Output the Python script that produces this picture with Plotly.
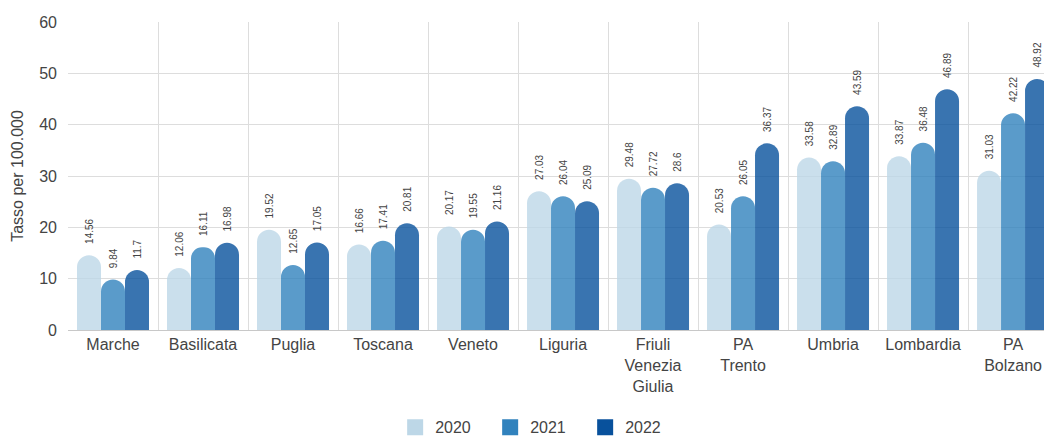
import plotly.graph_objects as go

regions = ["Marche", "Basilicata", "Puglia", "Toscana", "Veneto", "Liguria",
           "Friuli<br>Venezia<br>Giulia", "PA<br>Trento", "Umbria", "Lombardia",
           "PA<br>Bolzano"]
years = ["2020", "2021", "2022"]
rate_2020 = [14.56, 12.06, 19.52, 16.66, 20.17, 27.03, 29.48, 20.53, 33.58, 33.87, 31.03]
rate_2021 = [9.84, 16.11, 12.65, 17.41, 19.55, 26.04, 27.72, 26.05, 32.89, 36.48, 42.22]
rate_2022 = [11.7, 16.98, 17.05, 20.81, 21.16, 25.09, 28.6, 36.37, 43.59, 46.89, 48.92]
series = [rate_2020, rate_2021, rate_2022]
colors = ["#bdd7e7", "#3182bd", "#08519c"]

FONT = "Liberation Sans, Arial, sans-serif"
TEXT = "#444444"

fig = go.Figure()
for year, values, color in zip(years, series, colors):
    fig.add_trace(go.Bar(
        x=regions, y=values, name=year, showlegend=False,
        marker=dict(color=color, opacity=0.8, cornerradius="50%", line=dict(width=0)),
        texttemplate="\u00a0\u00a0\u00a0%{y}", textposition="outside", textangle=-90,
        constraintext="none",
        textfont=dict(size=10, color=TEXT, family=FONT), cliponaxis=False,
        hoverinfo="x+y+name",
    ))

# legend swatches in the solid palette
for year, color in zip(years, colors):
    fig.add_trace(go.Scatter(
        x=[None], y=[None], mode="markers", name=year,
        marker=dict(symbol="square", size=16, color=color),
    ))

fig.update_layout(
    width=1044, height=436,
    margin=dict(l=68, r=0, t=22, b=106),
    paper_bgcolor="white", plot_bgcolor="white",
    font=dict(family=FONT, size=16, color=TEXT),
    barmode="group", bargap=0.2, bargroupgap=0,
    showlegend=True,
    legend=dict(orientation="h", xref="container", yref="container",
                x=0.515, xanchor="center", y=0.02, yanchor="middle",
                font=dict(size=16, color=TEXT), entrywidth=50,
                entrywidthmode="pixels"),
    xaxis=dict(type="category", range=[-0.5, 10.344], tickson="boundaries",
               showgrid=True, gridcolor="#dddddd", ticks="",
               showline=True, linecolor="#c8c8c8",
               tickfont=dict(size=16, color=TEXT)),
    yaxis=dict(range=[0, 60], dtick=10, showgrid=True, gridcolor="#dddddd",
               zeroline=False, ticks="", ticklabelstandoff=10,
               tickfont=dict(size=16, color=TEXT),
               title=dict(text="Tasso per 100.000", font=dict(size=16, color=TEXT),
                          standoff=11)),
)

fig.write_html("out.html")
